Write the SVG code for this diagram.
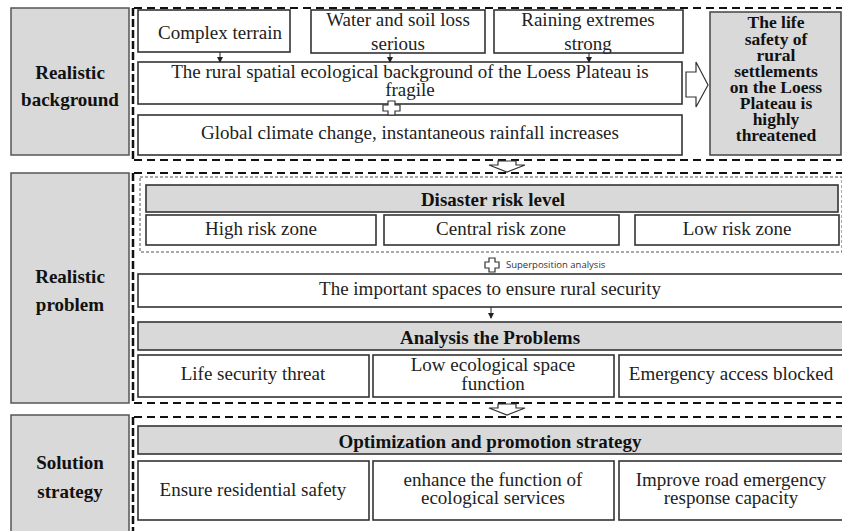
<svg xmlns="http://www.w3.org/2000/svg" width="842" height="531" viewBox="0 0 842 531">
<defs>
<style>
.lab{fill:#d9d9d9;stroke:#555;stroke-width:1.5}
.box{fill:#fff;stroke:#333;stroke-width:1.6}
.bar{fill:#d9d9d9;stroke:#333;stroke-width:1.6}
.t{font-family:"Liberation Serif","Times New Roman",serif;font-size:19px;fill:#222;text-anchor:middle}
.b{font-family:"Liberation Serif","Times New Roman",serif;font-size:19px;font-weight:bold;fill:#111;text-anchor:middle}
.r{font-family:"Liberation Serif","Times New Roman",serif;font-size:17.5px;font-weight:bold;fill:#111;text-anchor:middle}
.s{font-family:"Open Sans","DejaVu Sans",sans-serif;font-size:9.5px;fill:#333}
.dash{fill:none;stroke:#111;stroke-width:2.2;stroke-dasharray:8,5}
.vdash{fill:none;stroke:#111;stroke-width:2.5;stroke-dasharray:8,3}
.tdash{fill:none;stroke:#555;stroke-width:1;stroke-dasharray:3,2}
.hol{fill:#fff;stroke:#333;stroke-width:1.2}
</style>
<marker id="ah" markerWidth="6" markerHeight="6" refX="5" refY="3" orient="auto" markerUnits="userSpaceOnUse">
<path d="M0,0 L6,3 L0,6 z" fill="#222"/>
</marker>
</defs>
<rect width="842" height="531" fill="#fff"/>

<!-- frames -->
<g id="frames">
<path class="dash" d="M134,8 H842 M134,160 H842 M134,173 H842 M134,403 H842 M134,417 H842"/>
<path class="vdash" d="M133,8 V160 M133,173 V403 M133,417 V531"/>
<rect class="tdash" x="140" y="177" width="702" height="75"/>
</g>

<!-- Section 1 -->
<g id="lab1"><rect class="lab" x="11" y="8" width="118" height="147"/>
<text class="b" x="70" y="79">Realistic</text><text class="b" x="70" y="106">background</text></g>

<g id="n_complex"><rect class="box" x="138" y="10" width="152" height="42"/>
<text class="t" x="220" y="39">Complex terrain</text></g>
<g id="n_water"><rect class="box" x="311" y="10" width="174" height="43"/>
<text class="t" x="398" y="26">Water and soil loss</text><text class="t" x="398" y="50">serious</text></g>
<g id="n_rain"><rect class="box" x="494" y="10" width="189" height="43"/>
<text class="t" x="588" y="26">Raining extremes</text><text class="t" x="588" y="50">strong</text></g>

<g id="n_fragile"><rect class="box" x="138" y="62" width="544" height="42"/>
<text class="t" x="410" y="78">The rural spatial ecological background of the Loess Plateau is</text>
<text class="t" x="410" y="96">fragile</text></g>

<g id="n_global"><rect class="box" x="138" y="115" width="544" height="40"/>
<text class="t" x="410" y="139">Global climate change, instantaneous rainfall increases</text></g>

<g id="n_life"><rect class="lab" x="710" y="12" width="131" height="143" style="stroke:#444"/>
<text class="r" x="776" y="28">The life</text>
<text class="r" x="776" y="44.5">safety of</text>
<text class="r" x="776" y="61">rural</text>
<text class="r" x="776" y="77">settlements</text>
<text class="r" x="776" y="93">on the Loess</text>
<text class="r" x="776" y="109">Plateau is</text>
<text class="r" x="776" y="125">highly</text>
<text class="r" x="776" y="141">threatened</text></g>

<!-- Section 2 -->
<g id="lab2"><rect class="lab" x="11" y="173" width="118" height="230"/>
<text class="b" x="70" y="283">Realistic</text><text class="b" x="70" y="311">problem</text></g>

<g id="n_risk"><rect class="bar" x="146" y="185" width="692" height="27"/>
<text class="b" x="493" y="206">Disaster risk level</text></g>
<g id="n_high"><rect class="box" x="146" y="215" width="230" height="30"/>
<text class="t" x="261" y="235">High risk zone</text></g>
<g id="n_central"><rect class="box" x="384" y="215" width="235" height="30"/>
<text class="t" x="501" y="235">Central risk zone</text></g>
<g id="n_low"><rect class="box" x="635" y="215" width="204" height="30"/>
<text class="t" x="737" y="235">Low risk zone</text></g>

<g id="n_super">
<path class="hol" d="M489,258 h6 v4 h4 v6 h-4 v4 h-6 v-4 h-4 v-6 h4 z"/>
<text class="s" x="506" y="268">Superposition analysis</text></g>

<g id="n_important"><rect class="box" x="138" y="274" width="706" height="33"/>
<text class="t" x="490" y="295">The important spaces to ensure rural security</text></g>

<g id="n_analysis"><rect class="bar" x="138" y="322" width="706" height="28"/>
<text class="b" x="490" y="344">Analysis the Problems</text></g>

<g id="n_p1"><rect class="box" x="138" y="355" width="231" height="42"/>
<text class="t" x="253" y="380">Life security threat</text></g>
<g id="n_p2"><rect class="box" x="373" y="355" width="241" height="42"/>
<text class="t" x="493" y="371">Low ecological space</text><text class="t" x="493" y="390">function</text></g>
<g id="n_p3"><rect class="box" x="619" y="355" width="224" height="42"/>
<text class="t" x="731" y="380">Emergency access blocked</text></g>

<!-- Section 3 -->
<g id="lab3"><rect class="lab" x="11" y="415" width="118" height="120"/>
<text class="b" x="70" y="469">Solution</text><text class="b" x="70" y="498">strategy</text></g>

<g id="n_opt"><rect class="bar" x="138" y="426" width="706" height="28"/>
<text class="b" x="490" y="448">Optimization and promotion strategy</text></g>

<g id="n_s1"><rect class="box" x="138" y="461" width="231" height="59"/>
<text class="t" x="253" y="496">Ensure residential safety</text></g>
<g id="n_s2"><rect class="box" x="373" y="461" width="241" height="59"/>
<text class="t" x="493" y="486">enhance the function of</text><text class="t" x="493" y="504">ecological services</text></g>
<g id="n_s3"><rect class="box" x="619" y="461" width="224" height="59"/>
<text class="t" x="731" y="486">Improve road emergency</text><text class="t" x="731" y="504">response capacity</text></g>

<!-- connectors -->
<g id="connectors">
<line x1="220" y1="52" x2="220" y2="62" stroke="#222" stroke-width="1" marker-end="url(#ah)"/>
<line x1="390" y1="53" x2="390" y2="62" stroke="#222" stroke-width="1" marker-end="url(#ah)"/>
<line x1="589" y1="53" x2="589" y2="62" stroke="#222" stroke-width="1" marker-end="url(#ah)"/>
<path class="hol" d="M388,101 h7 v4 h5 v6 h-5 v4 h-7 v-4 h-5 v-6 h5 z"/>
<path class="hol" d="M686,72 h10 v-10 l12,23 l-12,22 v-10 h-10 z"/>
<line x1="491" y1="307" x2="491" y2="318" stroke="#222" stroke-width="1" marker-end="url(#ah)"/>
<path class="hol" d="M498,161 h18 v4 h9 l-18,7 l-18,-7 h9 z"/>
<path class="hol" d="M498,404 h18 v4 h9 l-18,7 l-18,-7 h9 z"/>
</g>
</svg>
